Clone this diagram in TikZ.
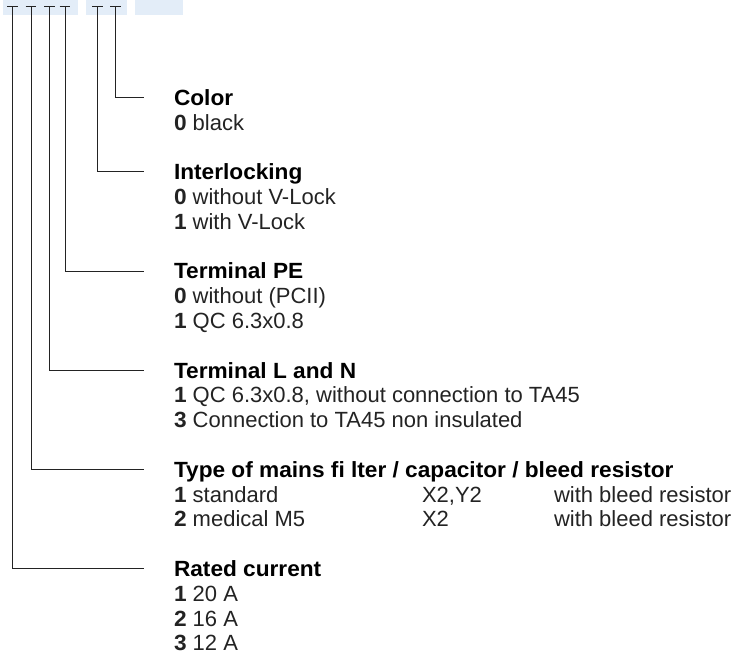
\documentclass[tikz,border=0pt]{standalone}
\usepackage{fontspec}
\setmainfont{Liberation Sans}[BoldFeatures={FakeStretch=1.03}]
\usetikzlibrary{positioning}
\definecolor{codeblue}{RGB}{227,237,248}
\definecolor{ink}{RGB}{35,35,35}

\begin{document}
\begin{tikzpicture}[x=1pt,y=-1pt,
    row/.style={inner sep=0pt,outer sep=0pt,text height=20.3pt,text depth=4.5pt,
      font=\fontsize{22pt}{24.8pt}\selectfont,text=ink},
    title/.style={row,font=\fontsize{22pt}{24.8pt}\selectfont\bfseries,text=black},
    item/.style={row,below right=0pt and 0pt of #1.south west},
    lead/.style={ink,line width=1pt,shorten >=30pt},
    bar/.style={ink,line width=1pt}]
    \useasboundingbox (0,0) rectangle (739,657);
    % code boxes
    \fill[codeblue] (3,0) rectangle (78,15);
    \fill[codeblue] (86,0) rectangle (127,15);
    \fill[codeblue] (135,0) rectangle (183,15);
    % color
    \node[title,anchor=base west] (tcol) at (174,105.3) {Color};
    \node[item=tcol] (col0) {\textbf{0} black};
    % interlocking
    \node[title,anchor=base west] (tint) at (174,179.7) {Interlocking};
    \node[item=tint] (int0) {\textbf{0} without V-Lock};
    \node[item=int0] (int1) {\textbf{1} with V-Lock};
    % terminal PE
    \node[title,anchor=base west] (tpe) at (174,278.9) {Terminal PE};
    \node[item=tpe] (pe0) {\textbf{0} without (PCII)};
    \node[item=pe0] (pe1) {\textbf{1} QC 6.3x0.8};
    % terminal L and N
    \node[title,anchor=base west] (tln) at (174,378.1) {Terminal L and N};
    \node[item=tln] (ln1) {\textbf{1} QC 6.3x0.8, without connection to TA45};
    \node[item=ln1] (ln3) {\textbf{3} Connection to TA45 non insulated};
    % type of filter
    \node[title,anchor=base west] (ttyp) at (174,477.3) {Type of mains fi lter / capacitor / bleed resistor};
    \node[item=ttyp] (typ1) {\textbf{1} standard};
    \node[item=typ1] (typ2) {\textbf{2} medical M5};
    \node[row,anchor=base west] (typ1c) at ([xshift=248pt]typ1.base west) {X2,Y2};
    \node[row,anchor=base west] (typ2c) at ([xshift=248pt]typ2.base west) {X2};
    \node[row,anchor=base west] (typ1r) at ([xshift=380pt]typ1.base west) {with bleed resistor};
    \node[row,anchor=base west] (typ2r) at ([xshift=380pt]typ2.base west) {with bleed resistor};
    % rated current
    \node[title,anchor=base west] (trat) at (174,576.5) {Rated current};
    \node[item=trat] (rat1) {\textbf{1} 20 A};
    \node[item=rat1] (rat2) {\textbf{2} 16 A};
    \node[item=rat2] (rat3) {\textbf{3} 12 A};
    % leads from the code positions
    \coordinate (krat) at (12.3,6);
    \coordinate (ktyp) at (31,6);
    \coordinate (kln) at (49.3,6);
    \coordinate (kpe) at (65,6);
    \coordinate (kint) at (97.7,6);
    \coordinate (kcol) at (115.3,6);
    \draw[bar] ([xshift=-5.3pt]krat) -- ([xshift=5.3pt]krat);
    \draw[bar] ([xshift=-5.3pt]ktyp) -- ([xshift=5.3pt]ktyp);
    \draw[bar] ([xshift=-5.3pt]kln) -- ([xshift=5.3pt]kln);
    \draw[bar] ([xshift=-5.3pt]kpe) -- ([xshift=5.3pt]kpe);
    \draw[bar] ([xshift=-5.3pt]kint) -- ([xshift=5.3pt]kint);
    \draw[bar] ([xshift=-5.3pt]kcol) -- ([xshift=5.3pt]kcol);
    \draw[lead] (krat) |- (trat.west);
    \draw[lead] (ktyp) |- (ttyp.west);
    \draw[lead] (kln) |- (tln.west);
    \draw[lead] (kpe) |- (tpe.west);
    \draw[lead] (kint) |- (tint.west);
    \draw[lead] (kcol) |- (tcol.west);
  \end{tikzpicture}
\end{document}
